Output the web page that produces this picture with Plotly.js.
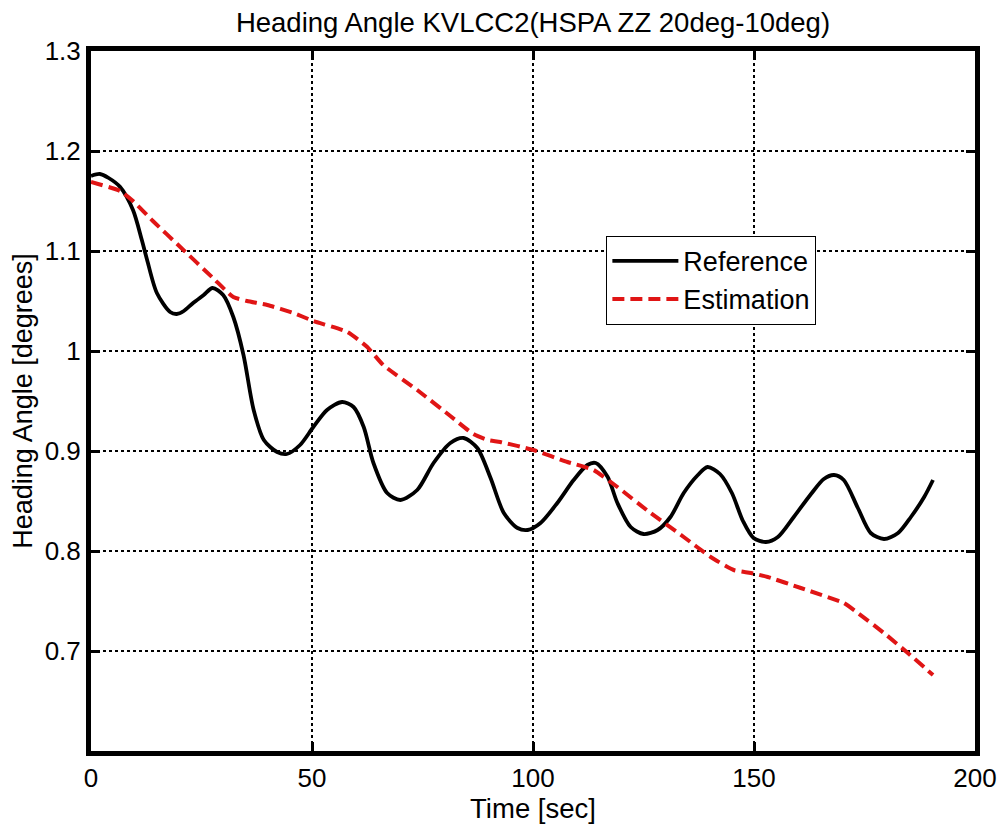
<!DOCTYPE html>
<html>
<head>
<meta charset="utf-8">
<script src="https://cdn.plot.ly/plotly-3.0.1.min.js"></script>
<style>html,body{margin:0;padding:0;background:#fff;}#chart{width:1007px;height:825px;}</style>
</head>
<body>
<div id="chart"></div>
<script>
var refTime = [0, 2, 4, 6.6, 9.5, 11.5, 12.7, 14.9, 17.9, 19.4, 21, 23.1, 25.5, 27.5, 29.9, 32.2, 34.5, 36.8, 39.1, 42.1, 44.3, 47.3, 50.3, 53.4, 56.8, 59.4, 61.7, 63.9, 67, 70, 73.8, 77.5, 81.3, 84.3, 87.4, 90.4, 93.4, 96.5, 98.8, 101.7, 105.5, 109.2, 112.3, 114.2, 116.9, 119.1, 122.1, 125, 128.2, 131.1, 134.1, 137.3, 139.5, 142.3, 145, 147.5, 149.9, 152.7, 155.4, 159, 162.9, 165.8, 168.1, 170.3, 173.5, 176.4, 179.4, 182.6, 185.5, 188.5, 190.5];
var refValue = [1.175, 1.177, 1.173, 1.164, 1.141, 1.111, 1.091, 1.058, 1.039, 1.037, 1.040, 1.048, 1.056, 1.063, 1.056, 1.034, 0.996, 0.941, 0.911, 0.899, 0.897, 0.906, 0.924, 0.941, 0.949, 0.944, 0.924, 0.888, 0.858, 0.851, 0.861, 0.888, 0.908, 0.913, 0.903, 0.873, 0.838, 0.823, 0.821, 0.828, 0.848, 0.871, 0.886, 0.888, 0.874, 0.848, 0.824, 0.817, 0.821, 0.834, 0.858, 0.876, 0.884, 0.877, 0.858, 0.830, 0.813, 0.809, 0.814, 0.834, 0.857, 0.872, 0.876, 0.871, 0.843, 0.818, 0.812, 0.818, 0.834, 0.854, 0.871];

var estTime = [0, 6.6, 9.5, 14, 20.2, 27.6, 32.2, 35.3, 39.9, 45.8, 50.3, 58, 62.5, 66.1, 73.8, 81.3, 86.5, 89.7, 92.6, 100.1, 107.8, 113.7, 119.1, 126.6, 134.1, 140.2, 145.4, 149.3, 153.1, 160.6, 170.3, 173.5, 179.4, 184.8, 190.5];
var estValue = [1.169, 1.160, 1.150, 1.130, 1.104, 1.073, 1.054, 1.050, 1.046, 1.038, 1.030, 1.019, 1.004, 0.986, 0.961, 0.935, 0.917, 0.911, 0.909, 0.901, 0.889, 0.881, 0.864, 0.838, 0.814, 0.794, 0.781, 0.778, 0.774, 0.763, 0.748, 0.738, 0.718, 0.698, 0.676];

var xTicks = [0, 50, 100, 150, 200];
var xTickText = ['0', '50', '100', '150', '200'];
var yTicks = [0.7, 0.8, 0.9, 1.0, 1.1, 1.2, 1.3];
var yTickText = ['0.7', '0.8', '0.9', '1', '1.1', '1.2', '1.3'];

var FONT = 'Liberation Sans, Arial, Helvetica, sans-serif';

var traces = [
  {x: refTime, y: refValue, name: 'Reference', mode: 'lines',
   line: {color: '#000000', width: 3.8, shape: 'spline', smoothing: 0.8}},
  {x: estTime, y: estValue, name: 'Estimation', mode: 'lines',
   line: {color: '#e01515', width: 4, dash: '12px,6px', shape: 'spline', smoothing: 0.5}}
];

var axisCommon = {
  showline: true, linecolor: '#000', linewidth: 5, mirror: 'ticks',
  ticks: 'inside', ticklen: 9, tickwidth: 3, tickcolor: '#000',
  showgrid: true, gridcolor: '#000', gridwidth: 1.5, griddash: 'dot',
  zeroline: false, tickfont: {family: FONT, size: 26, color: '#000'},
  automargin: false
};

var layout = {
  width: 1007, height: 825,
  margin: {l: 91, r: 32, t: 51, b: 74},
  paper_bgcolor: '#fff', plot_bgcolor: '#fff',
  showlegend: true,
  title: {text: 'Heading Angle KVLCC2(HSPA ZZ 20deg-10deg)', font: {family: FONT, size: 27.5, color: '#000'},
          x: 0.5, xref: 'paper', y: 0.973, yref: 'container', yanchor: 'middle'},
  xaxis: Object.assign({}, axisCommon, {
    range: [0, 200], tickmode: 'array', tickvals: xTicks, ticktext: xTickText,
    title: {text: 'Time [sec]', font: {family: FONT, size: 27.5, color: '#000'}, standoff: 2}
  }),
  yaxis: Object.assign({}, axisCommon, {
    range: [0.6, 1.3], tickmode: 'array', tickvals: yTicks, ticktext: yTickText,
    title: {text: 'Heading Angle [degrees]', font: {family: FONT, size: 27, color: '#000'}, standoff: 6}
  }),
  legend: {x: 0.583, y: 0.736, xanchor: 'left', yanchor: 'top',
           bgcolor: '#fff', bordercolor: '#000', borderwidth: 1, itemwidth: 66,
           font: {family: FONT, size: 27, color: '#000'}, tracegroupgap: 0}
};

Plotly.newPlot('chart', traces, layout, {staticPlot: true, displayModeBar: false});
</script>
</body>
</html>
